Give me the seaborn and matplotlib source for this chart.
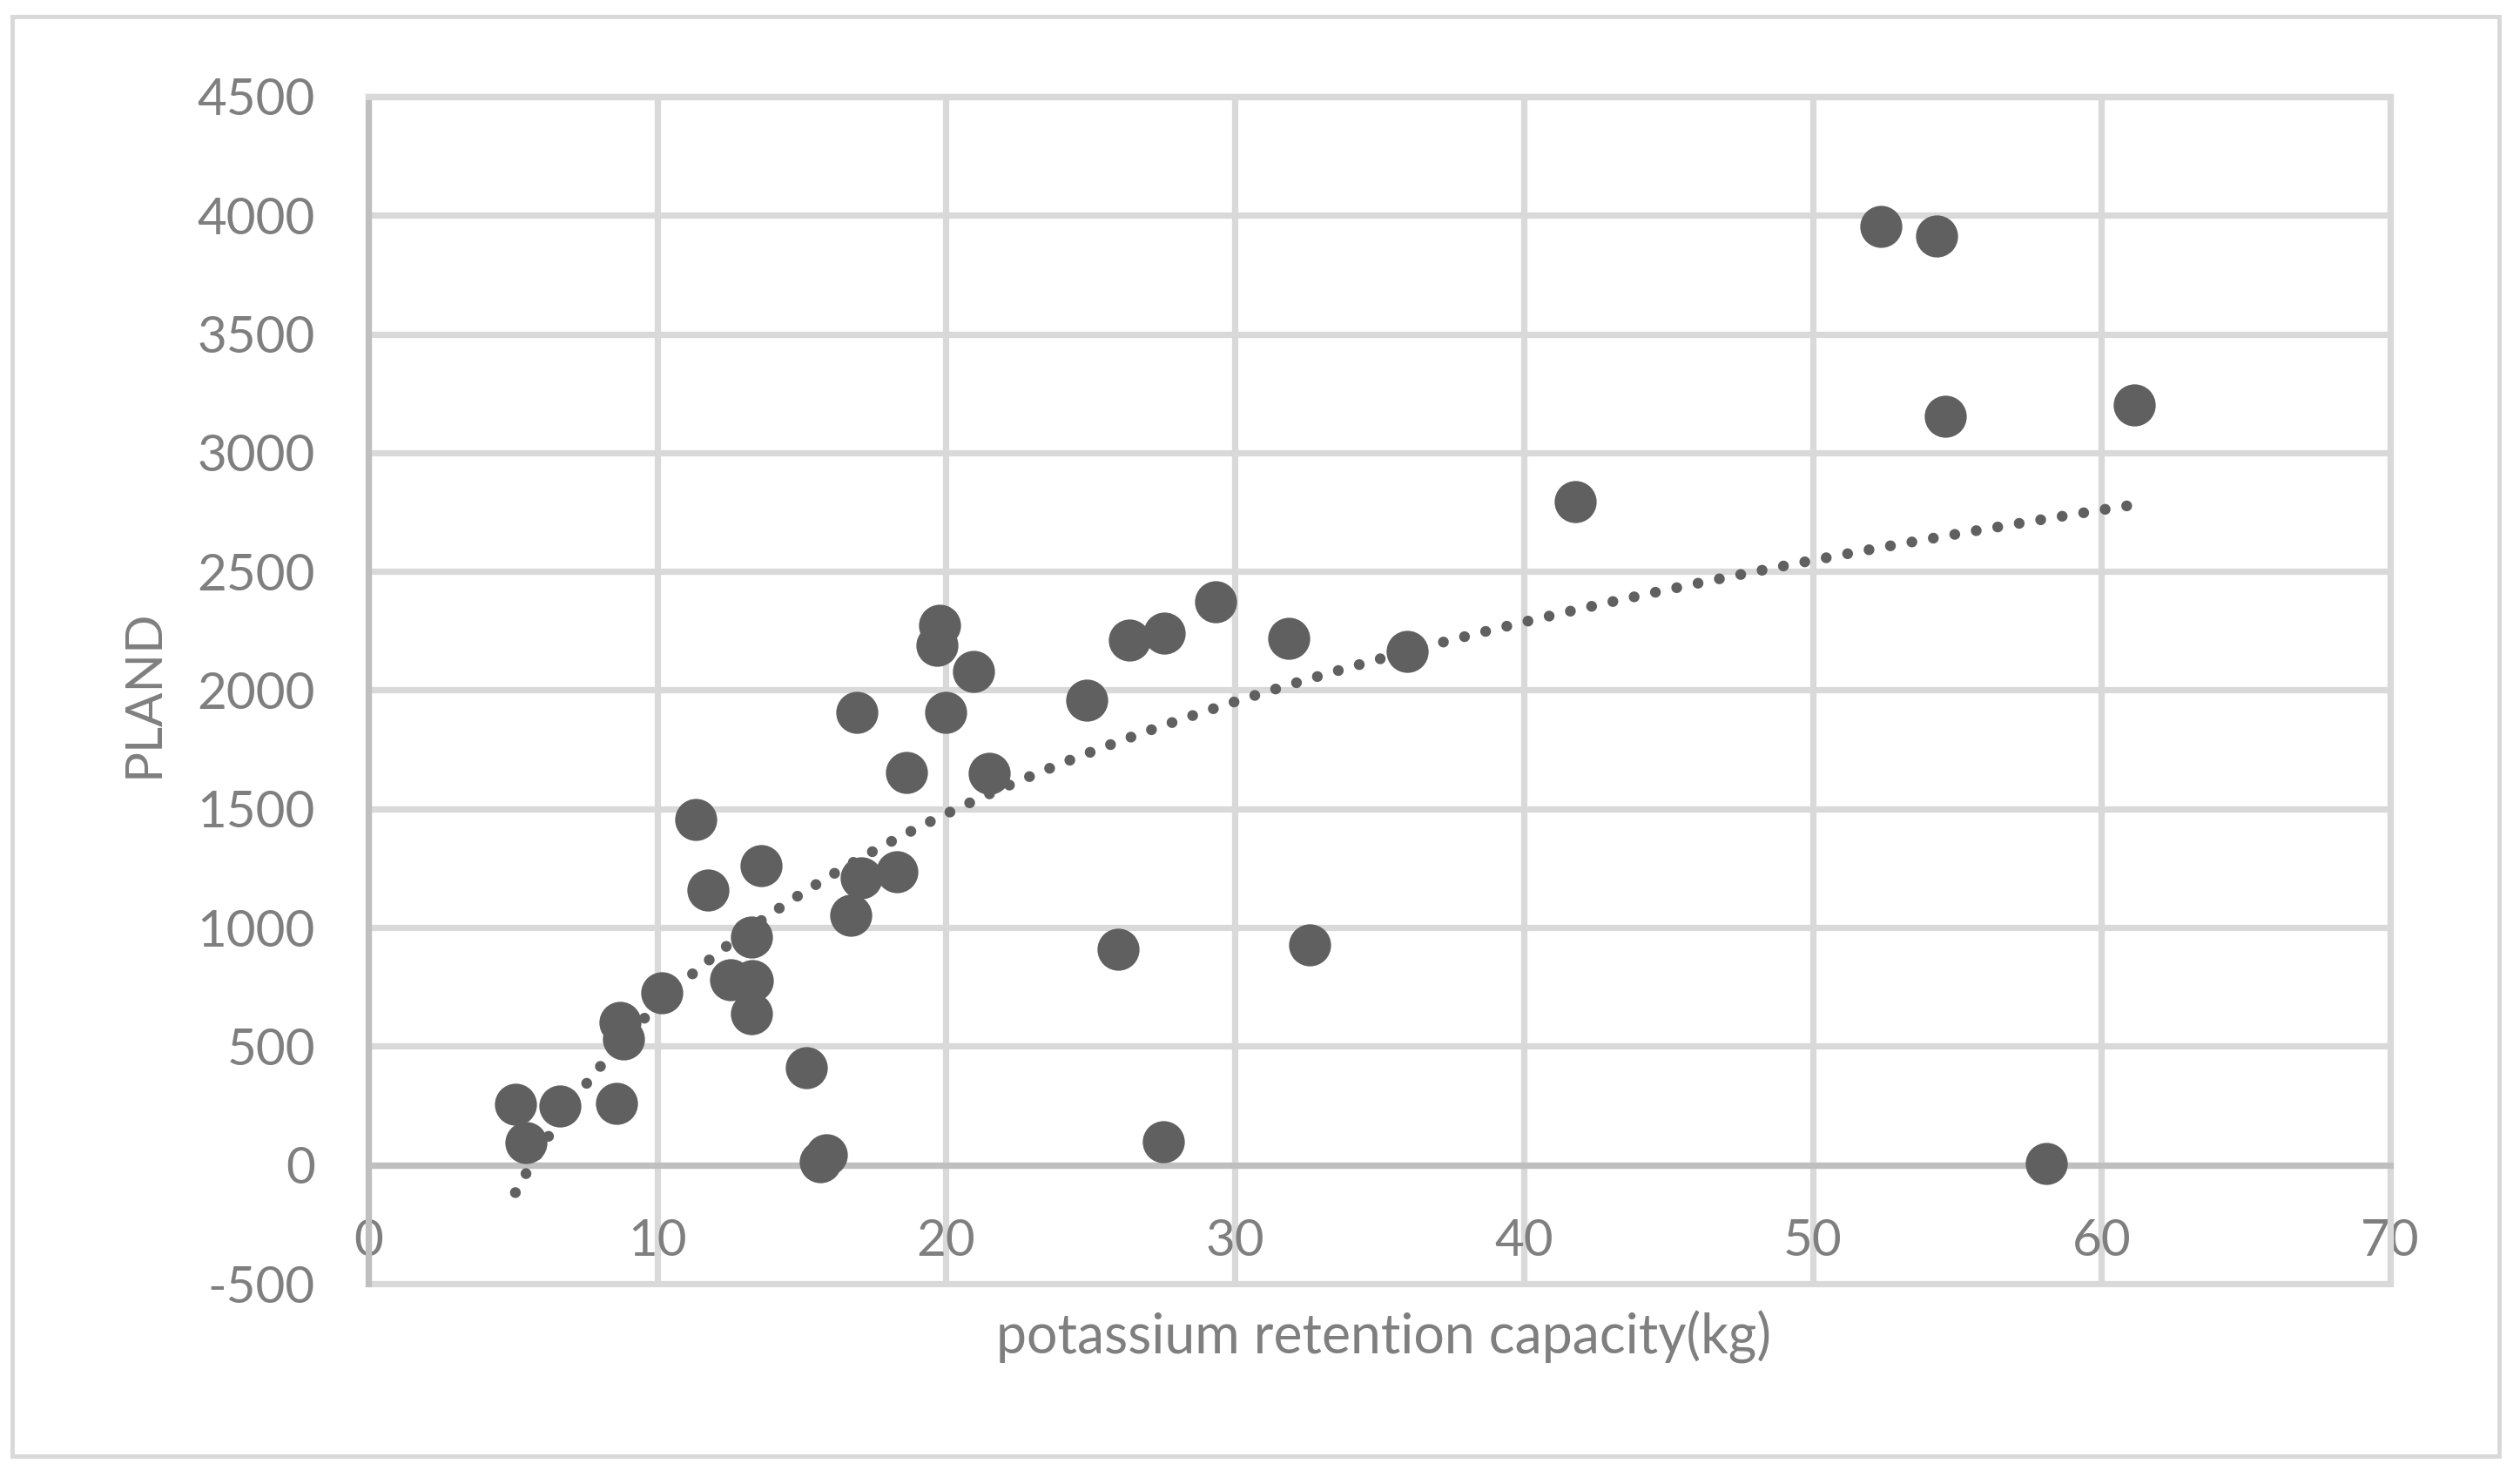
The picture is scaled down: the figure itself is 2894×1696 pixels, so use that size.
import numpy as np
import pandas as pd
import matplotlib
matplotlib.use("Agg")
import matplotlib.pyplot as plt
import seaborn as sns
from matplotlib.patches import Rectangle

# ---- data ----
x_vals = [5.09, 5.47, 6.62, 8.58, 8.71, 8.83, 10.16, 11.33, 11.76, 12.55,
          13.26, 13.26, 13.29, 13.60, 15.15, 15.65, 15.85, 16.71, 16.92, 17.06,
          18.30, 18.62, 19.70, 19.77, 19.99, 20.96, 21.50, 24.87, 25.96, 26.36,
          27.52, 27.54, 29.33, 31.85, 32.60, 35.97, 41.77, 52.37, 54.29, 54.59,
          58.09, 61.15]
y_vals = [254, 93, 247, 260, 600, 529, 727, 1456, 1157, 782,
          961, 639, 776, 1262, 410, 15, 42, 1052, 1907, 1208,
          1236, 1654, 2188, 2272, 1908, 2080, 1650, 1957, 910, 2211,
          99, 2239, 2373, 2217, 928, 2162, 2796, 3954, 3912, 3152,
          7, 3201]
x_ticks = [0, 10, 20, 30, 40, 50, 60, 70]
y_ticks = [-500, 0, 500, 1000, 1500, 2000, 2500, 3000, 3500, 4000, 4500]
x_label = "potassium retention capacity(kg)"
y_label = "PLAND"

df = pd.DataFrame({"x": x_vals, "y": y_vals})

sns.set_theme(style="white")
plt.rcParams["font.family"] = ["Lato", "DejaVu Sans"]
plt.rcParams["axes.unicode_minus"] = False

W, H = 2894, 1696
fig = plt.figure(figsize=(W / 100, H / 100), dpi=100)
fig.patch.set_facecolor("white")

# outer chart border
fig.patches.append(Rectangle((14 / W, 1 - 1672 / H), 2856 / W, 1653 / H,
                             transform=fig.transFigure, fill=False,
                             edgecolor="#D9D9D9", linewidth=3.6))

ax = fig.add_axes([423 / W, 1 - 1474 / H, (2745 - 423) / W, (1474 - 111) / H])

mark_col = "#606060"
sns.scatterplot(data=df, x="x", y="y", ax=ax, s=1210, color=mark_col,
                linewidth=0, zorder=3, legend=False)
sns.regplot(data=df, x="x", y="y", ax=ax, scatter=False, logx=True, ci=None,
            line_kws=dict(color=mark_col, linewidth=9, linestyle=(0, (0.001, 2.0)),
                          dash_capstyle="round", zorder=4))

ax.set_xlim(0, 70)
ax.set_ylim(-500, 4500)
ax.set_xticks(x_ticks)
ax.set_yticks(y_ticks)
ax.set_xticklabels([str(v) for v in x_ticks])
ax.set_yticklabels([str(v) for v in y_ticks])

grid_col = "#D9D9D9"
ax.grid(True, color=grid_col, linewidth=5.2)
ax.set_axisbelow(True)
for ln in ax.get_xgridlines() + ax.get_ygridlines():
    ln.set_clip_on(False)

for side in ["top", "right"]:
    ax.spines[side].set_visible(True)
    ax.spines[side].set_color(grid_col)
    ax.spines[side].set_linewidth(5.2)
ax.spines["left"].set_color("#BFBFBF")
ax.spines["left"].set_linewidth(5.2)
ax.spines["bottom"].set_position(("data", 0))
ax.spines["bottom"].set_color("#BFBFBF")
ax.spines["bottom"].set_linewidth(5.2)

txt_col = "#7F7F7F"
ax.tick_params(axis="both", length=0, labelsize=42, labelcolor=txt_col)
ax.tick_params(axis="x", pad=44)
ax.tick_params(axis="y", pad=44)

ax.set_xlabel(x_label, fontsize=45, color=txt_col)
ax.set_ylabel(y_label, fontsize=42, color=txt_col)
ax.xaxis.set_label_coords((1589 - 423) / (2745 - 423), (1474 - 1535) / (1474 - 111))
ax.yaxis.set_label_coords((165 - 423) / (2745 - 423), (1474 - 796) / (1474 - 111))
ax.xaxis.label.set(ha="center", va="center")
ax.yaxis.label.set(ha="center", va="center", rotation_mode="default")

fig.savefig("out.png", dpi=100, facecolor="white")
